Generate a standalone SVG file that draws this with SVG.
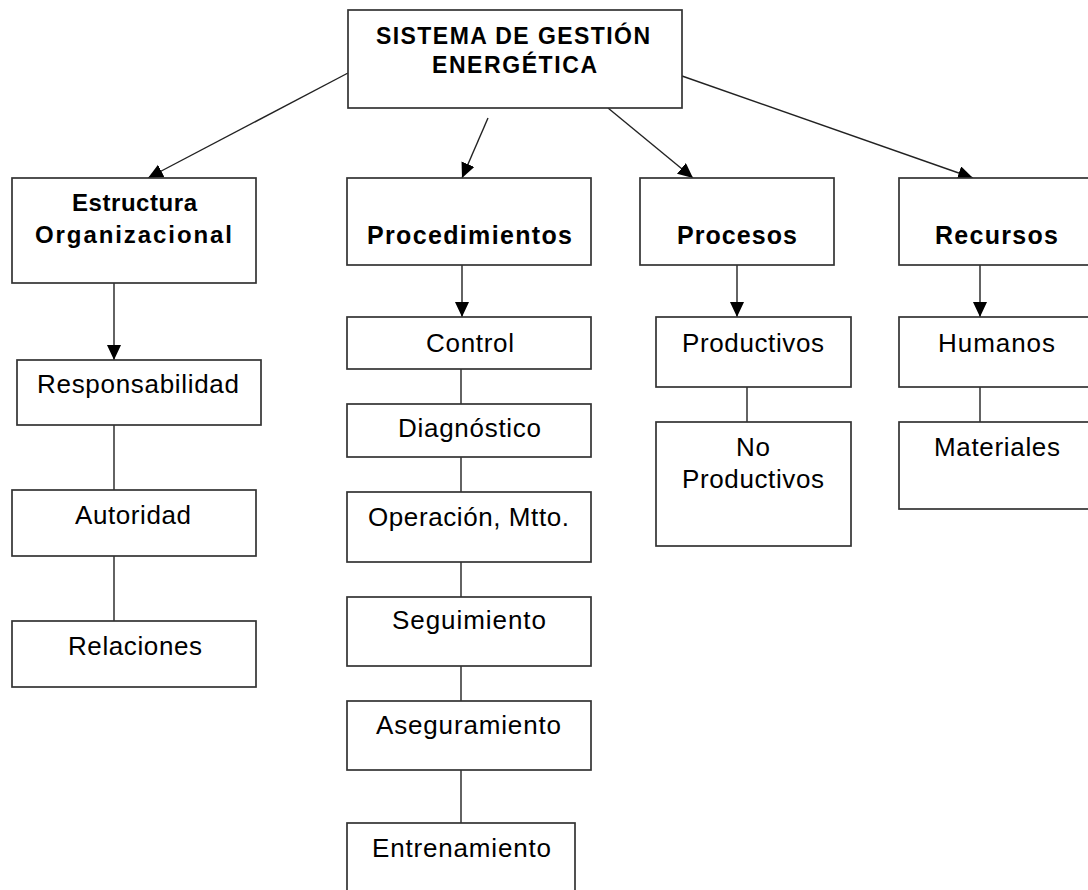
<svg xmlns="http://www.w3.org/2000/svg" width="1088" height="890" viewBox="0 0 1088 890">
  <defs>
    <marker id="arrow" markerUnits="userSpaceOnUse" markerWidth="16" markerHeight="16" refX="15" refY="7" orient="auto">
      <path d="M0,0 L15,7 L0,14 z" fill="#000"/>
    </marker>
    <style>
      .box { fill: #fff; stroke: #333; stroke-width: 1.7; }
      .lbl { font-family: "Liberation Sans", Arial, sans-serif; font-size: 26px; fill: #000; text-anchor: start; }
      .bold { font-weight: bold; font-size: 25px; }
      .link { stroke: #222; stroke-width: 1.4; fill: none; }
      .arr { stroke: #222; stroke-width: 1.4; fill: none; marker-end: url(#arrow); }
    </style>
  </defs>
  <rect width="1088" height="890" fill="#fff"/>

  <!-- connectors -->
  <g id="connectors">
    <line class="arr" x1="348" y1="73" x2="148" y2="178"/>
    <line class="arr" x1="488" y1="118" x2="462" y2="178"/>
    <line class="arr" x1="608" y1="108" x2="693" y2="178"/>
    <line class="arr" x1="682" y1="76" x2="973" y2="178"/>
    <line class="arr" x1="114" y1="283" x2="114" y2="360"/>
    <line class="arr" x1="462" y1="265" x2="462" y2="317"/>
    <line class="arr" x1="737" y1="265" x2="737" y2="317"/>
    <line class="arr" x1="980" y1="265" x2="980" y2="317"/>
    <line class="link" x1="114" y1="425" x2="114" y2="490"/>
    <line class="link" x1="114" y1="556" x2="114" y2="621"/>
    <line class="link" x1="461" y1="369" x2="461" y2="404"/>
    <line class="link" x1="461" y1="457" x2="461" y2="492"/>
    <line class="link" x1="461" y1="562" x2="461" y2="597"/>
    <line class="link" x1="461" y1="666" x2="461" y2="701"/>
    <line class="link" x1="461" y1="770" x2="461" y2="823"/>
    <line class="link" x1="747" y1="387" x2="747" y2="422"/>
    <line class="link" x1="980" y1="387" x2="980" y2="422"/>
  </g>

  <!-- root -->
  <g id="sistema">
    <rect class="box" x="348" y="10" width="334" height="98"/>
    <text class="lbl bold" x="376" y="44" style="font-size:23px" textLength="274" lengthAdjust="spacing">SISTEMA DE GESTIÓN</text>
    <text class="lbl bold" x="432" y="73" style="font-size:23px" textLength="165" lengthAdjust="spacing">ENERGÉTICA</text>
  </g>

  <!-- first level -->
  <g id="estructura">
    <rect class="box" x="12" y="178" width="244" height="105"/>
    <text class="lbl bold" x="72" y="211" style="font-size:24px" textLength="125" lengthAdjust="spacing">Estructura</text>
    <text class="lbl bold" x="35" y="243" style="font-size:24px" textLength="197" lengthAdjust="spacing">Organizacional</text>
  </g>
  <g id="procedimientos">
    <rect class="box" x="347" y="178" width="244" height="87"/>
    <text class="lbl bold" x="367" y="244" textLength="205" lengthAdjust="spacing">Procedimientos</text>
  </g>
  <g id="procesos">
    <rect class="box" x="640" y="178" width="194" height="87"/>
    <text class="lbl bold" x="677" y="244" textLength="120" lengthAdjust="spacing">Procesos</text>
  </g>
  <g id="recursos">
    <rect class="box" x="899" y="178" width="196" height="87"/>
    <text class="lbl bold" x="935" y="244" textLength="123" lengthAdjust="spacing">Recursos</text>
  </g>

  <!-- Estructura Organizacional branch -->
  <g id="responsabilidad">
    <rect class="box" x="17" y="360" width="244" height="65"/>
    <text class="lbl" x="37" y="393" textLength="202" lengthAdjust="spacing">Responsabilidad</text>
  </g>
  <g id="autoridad">
    <rect class="box" x="12" y="490" width="244" height="66"/>
    <text class="lbl" x="75" y="524" textLength="116" lengthAdjust="spacing">Autoridad</text>
  </g>
  <g id="relaciones">
    <rect class="box" x="12" y="621" width="244" height="66"/>
    <text class="lbl" x="68" y="655" textLength="134" lengthAdjust="spacing">Relaciones</text>
  </g>

  <!-- Procedimientos branch -->
  <g id="control">
    <rect class="box" x="347" y="317" width="244" height="52"/>
    <text class="lbl" x="426" y="352" textLength="88" lengthAdjust="spacing">Control</text>
  </g>
  <g id="diagnostico">
    <rect class="box" x="347" y="404" width="244" height="53"/>
    <text class="lbl" x="398" y="437" textLength="143" lengthAdjust="spacing">Diagnóstico</text>
  </g>
  <g id="operacion">
    <rect class="box" x="347" y="492" width="244" height="70"/>
    <text class="lbl" x="368" y="526" textLength="201" lengthAdjust="spacing">Operación, Mtto.</text>
  </g>
  <g id="seguimiento">
    <rect class="box" x="347" y="597" width="244" height="69"/>
    <text class="lbl" x="392" y="629" textLength="154" lengthAdjust="spacing">Seguimiento</text>
  </g>
  <g id="aseguramiento">
    <rect class="box" x="347" y="701" width="244" height="69"/>
    <text class="lbl" x="376" y="734" textLength="185" lengthAdjust="spacing">Aseguramiento</text>
  </g>
  <g id="entrenamiento">
    <rect class="box" x="347" y="823" width="228" height="80"/>
    <text class="lbl" x="372" y="857" textLength="179" lengthAdjust="spacing">Entrenamiento</text>
  </g>

  <!-- Procesos branch -->
  <g id="productivos">
    <rect class="box" x="656" y="317" width="195" height="70"/>
    <text class="lbl" x="682" y="352" textLength="142" lengthAdjust="spacing">Productivos</text>
  </g>
  <g id="no-productivos">
    <rect class="box" x="656" y="422" width="195" height="124"/>
    <text class="lbl" x="736" y="456" textLength="34" lengthAdjust="spacing">No</text>
    <text class="lbl" x="682" y="488" textLength="142" lengthAdjust="spacing">Productivos</text>
  </g>

  <!-- Recursos branch -->
  <g id="humanos">
    <rect class="box" x="899" y="317" width="196" height="70"/>
    <text class="lbl" x="938" y="352" textLength="117" lengthAdjust="spacing">Humanos</text>
  </g>
  <g id="materiales">
    <rect class="box" x="899" y="422" width="196" height="87"/>
    <text class="lbl" x="934" y="456" textLength="126" lengthAdjust="spacing">Materiales</text>
  </g>
</svg>
